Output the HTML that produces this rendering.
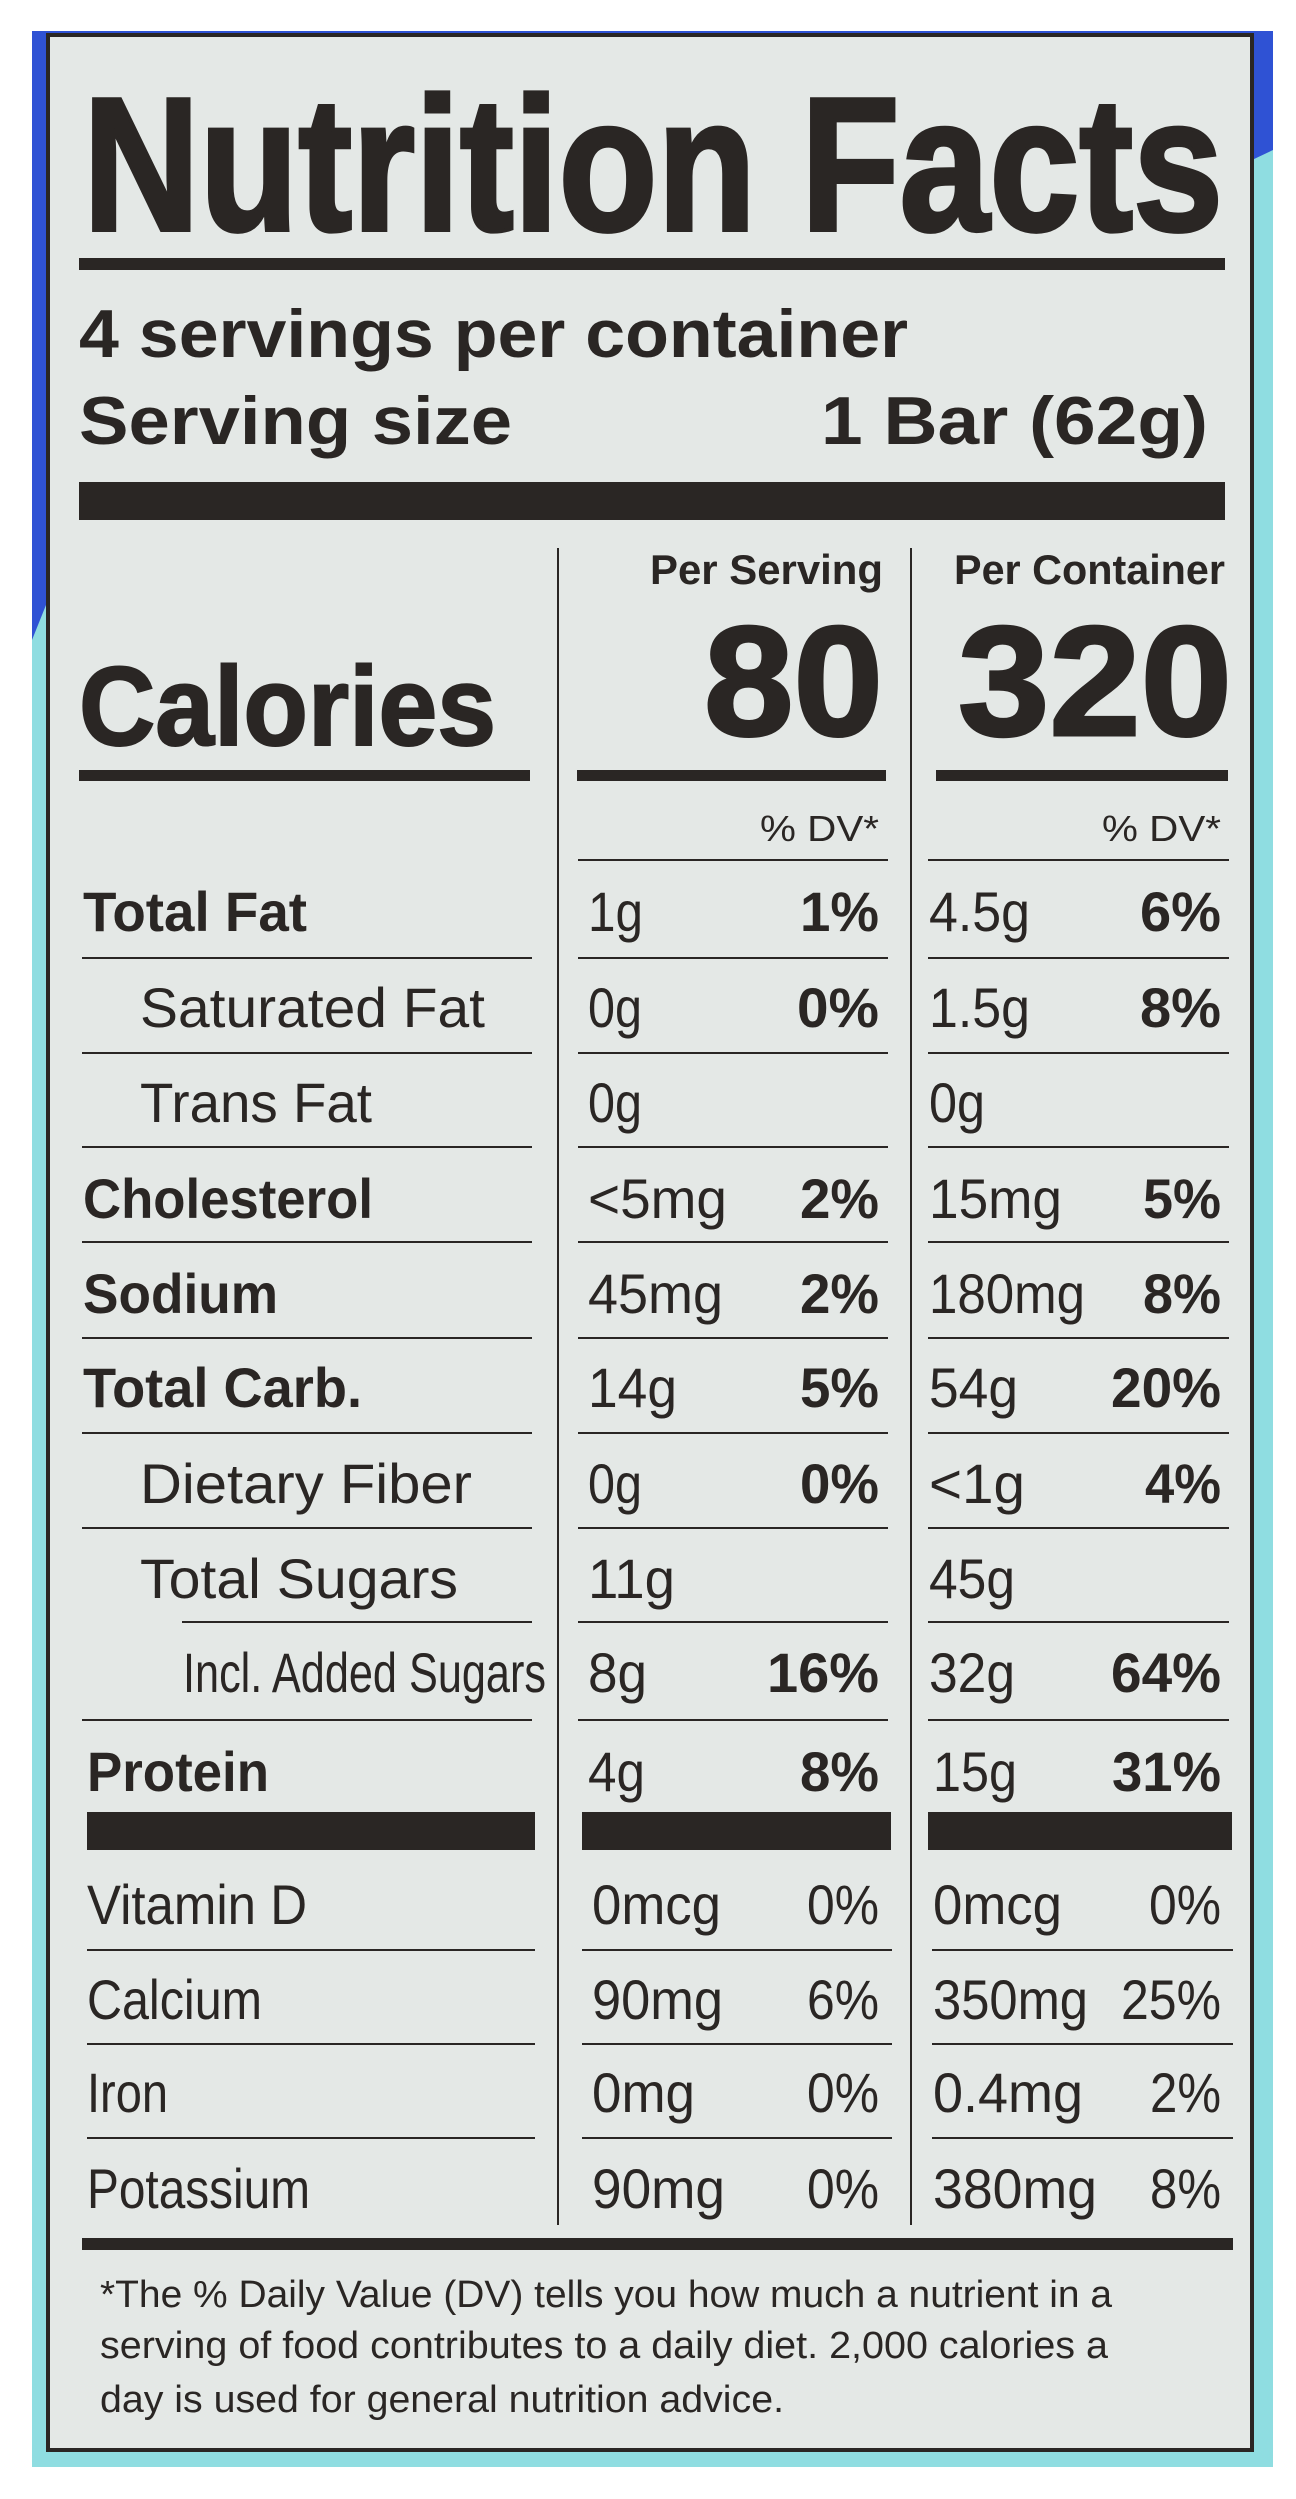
<!DOCTYPE html>
<html><head><meta charset="utf-8"><style>
html,body{margin:0;padding:0;background:#fff;}
svg{display:block}
text{font-family:"Liberation Sans",sans-serif;fill:#2a2624}
.b{font-weight:bold}
</style></head><body>
<svg width="1296" height="2499" viewBox="0 0 1296 2499" xmlns="http://www.w3.org/2000/svg">
<rect x="32" y="31" width="1241" height="2436" fill="#8fdde1"/>
<polygon points="32,31 1273,31 1273,150 1252,160 1252,45 48,45 48,600 32,640" fill="#2f52d4"/>
<rect x="48" y="35" width="1204" height="2415" fill="#e4e8e6" stroke="#2a2624" stroke-width="4"/>
<g fill="#2a2624">
<rect x="79" y="258" width="1146" height="12"/>
<rect x="79" y="482" width="1146" height="38"/>
<rect x="557" y="548" width="2" height="1677"/>
<rect x="910" y="548" width="2" height="1677"/>
<rect x="79" y="770" width="451" height="11"/>
<rect x="577" y="770" width="309" height="11"/>
<rect x="936" y="770" width="292" height="11"/>
<rect x="578" y="859" width="310" height="2"/><rect x="928" y="859" width="301" height="2"/>
<rect x="82" y="957" width="450" height="2"/><rect x="578" y="957" width="310" height="2"/><rect x="928" y="957" width="301" height="2"/>
<rect x="82" y="1052" width="450" height="2"/><rect x="578" y="1052" width="310" height="2"/><rect x="928" y="1052" width="301" height="2"/>
<rect x="82" y="1146" width="450" height="2"/><rect x="578" y="1146" width="310" height="2"/><rect x="928" y="1146" width="301" height="2"/>
<rect x="82" y="1241" width="450" height="2"/><rect x="578" y="1241" width="310" height="2"/><rect x="928" y="1241" width="301" height="2"/>
<rect x="82" y="1337" width="450" height="2"/><rect x="578" y="1337" width="310" height="2"/><rect x="928" y="1337" width="301" height="2"/>
<rect x="82" y="1432" width="450" height="2"/><rect x="578" y="1432" width="310" height="2"/><rect x="928" y="1432" width="301" height="2"/>
<rect x="82" y="1527" width="450" height="2"/><rect x="578" y="1527" width="310" height="2"/><rect x="928" y="1527" width="301" height="2"/>
<rect x="182" y="1621" width="350" height="2"/><rect x="578" y="1621" width="310" height="2"/><rect x="928" y="1621" width="301" height="2"/>
<rect x="82" y="1719" width="450" height="2"/><rect x="578" y="1719" width="310" height="2"/><rect x="928" y="1719" width="301" height="2"/>
<rect x="87" y="1812" width="448" height="38"/><rect x="582" y="1812" width="309" height="38"/><rect x="928" y="1812" width="304" height="38"/>
<rect x="87" y="1949" width="448" height="2"/><rect x="582" y="1949" width="310" height="2"/><rect x="932" y="1949" width="301" height="2"/>
<rect x="87" y="2043" width="448" height="2"/><rect x="582" y="2043" width="310" height="2"/><rect x="932" y="2043" width="301" height="2"/>
<rect x="87" y="2137" width="448" height="2"/><rect x="582" y="2137" width="310" height="2"/><rect x="932" y="2137" width="301" height="2"/>
<rect x="82" y="2238" width="1151" height="12"/>
</g>
<text class="b" x="83" y="230" font-size="190" stroke="#2a2624" stroke-width="4" textLength="1140" lengthAdjust="spacingAndGlyphs">Nutrition Facts</text>
<text class="b" x="79" y="357" font-size="68" textLength="829" lengthAdjust="spacingAndGlyphs">4 servings per container</text>
<text class="b" x="79" y="444" font-size="68" textLength="433" lengthAdjust="spacingAndGlyphs">Serving size</text>
<text class="b" x="821" y="444" font-size="68" textLength="387" lengthAdjust="spacingAndGlyphs">1 Bar (62g)</text>
<text class="b" x="650" y="584" font-size="42" textLength="233" lengthAdjust="spacingAndGlyphs">Per Serving</text>
<text class="b" x="954" y="584" font-size="42" textLength="271" lengthAdjust="spacingAndGlyphs">Per Container</text>
<text class="b" x="704" y="735" font-size="156" stroke="#2a2624" stroke-width="3" textLength="179" lengthAdjust="spacingAndGlyphs">80</text>
<text class="b" x="958" y="735" font-size="156" stroke="#2a2624" stroke-width="3" textLength="274" lengthAdjust="spacingAndGlyphs">320</text>
<text class="b" x="79" y="745" font-size="112" stroke="#2a2624" stroke-width="2" textLength="417" lengthAdjust="spacingAndGlyphs">Calories</text>
<text x="760" y="841" font-size="36" textLength="119" lengthAdjust="spacingAndGlyphs">% DV*</text>
<text x="1102" y="841" font-size="36" textLength="119" lengthAdjust="spacingAndGlyphs">% DV*</text>
<g font-size="56">
<text class="b" x="83" y="931" textLength="224" lengthAdjust="spacingAndGlyphs">Total Fat</text>
<text x="140" y="1027" textLength="345" lengthAdjust="spacingAndGlyphs">Saturated Fat</text>
<text x="140" y="1122" textLength="232" lengthAdjust="spacingAndGlyphs">Trans Fat</text>
<text class="b" x="83" y="1218" textLength="290" lengthAdjust="spacingAndGlyphs">Cholesterol</text>
<text class="b" x="83" y="1313" textLength="195" lengthAdjust="spacingAndGlyphs">Sodium</text>
<text class="b" x="83" y="1407" textLength="279" lengthAdjust="spacingAndGlyphs">Total Carb.</text>
<text x="140" y="1503" textLength="332" lengthAdjust="spacingAndGlyphs">Dietary Fiber</text>
<text x="140" y="1598" textLength="318" lengthAdjust="spacingAndGlyphs">Total Sugars</text>
<text x="183" y="1692" textLength="363" lengthAdjust="spacingAndGlyphs">Incl. Added Sugars</text>
<text class="b" x="87" y="1791" textLength="182" lengthAdjust="spacingAndGlyphs">Protein</text>
<text x="87" y="1924" textLength="220" lengthAdjust="spacingAndGlyphs">Vitamin D</text>
<text x="87" y="2019" textLength="175" lengthAdjust="spacingAndGlyphs">Calcium</text>
<text x="87" y="2112" textLength="81" lengthAdjust="spacingAndGlyphs">Iron</text>
<text x="87" y="2208" textLength="223" lengthAdjust="spacingAndGlyphs">Potassium</text>

<text x="588" y="931" textLength="55" lengthAdjust="spacingAndGlyphs">1g</text>
<text x="588" y="1027" textLength="54" lengthAdjust="spacingAndGlyphs">0g</text>
<text x="588" y="1122" textLength="54" lengthAdjust="spacingAndGlyphs">0g</text>
<text x="588" y="1218" textLength="139" lengthAdjust="spacingAndGlyphs">&lt;5mg</text>
<text x="588" y="1313" textLength="135" lengthAdjust="spacingAndGlyphs">45mg</text>
<text x="588" y="1407" textLength="89" lengthAdjust="spacingAndGlyphs">14g</text>
<text x="588" y="1503" textLength="54" lengthAdjust="spacingAndGlyphs">0g</text>
<text x="588" y="1598" textLength="87" lengthAdjust="spacingAndGlyphs">11g</text>
<text x="588" y="1692" textLength="59" lengthAdjust="spacingAndGlyphs">8g</text>
<text x="588" y="1791" textLength="57" lengthAdjust="spacingAndGlyphs">4g</text>
<text x="592" y="1924" textLength="129" lengthAdjust="spacingAndGlyphs">0mcg</text>
<text x="592" y="2019" textLength="131" lengthAdjust="spacingAndGlyphs">90mg</text>
<text x="592" y="2112" textLength="103" lengthAdjust="spacingAndGlyphs">0mg</text>
<text x="592" y="2208" textLength="133" lengthAdjust="spacingAndGlyphs">90mg</text>

<text class="b" x="800" y="931" textLength="79" lengthAdjust="spacingAndGlyphs">1%</text>
<text class="b" x="797" y="1027" textLength="82" lengthAdjust="spacingAndGlyphs">0%</text>
<text class="b" x="800" y="1218" textLength="79" lengthAdjust="spacingAndGlyphs">2%</text>
<text class="b" x="800" y="1313" textLength="79" lengthAdjust="spacingAndGlyphs">2%</text>
<text class="b" x="800" y="1407" textLength="79" lengthAdjust="spacingAndGlyphs">5%</text>
<text class="b" x="800" y="1503" textLength="79" lengthAdjust="spacingAndGlyphs">0%</text>
<text class="b" x="767" y="1692" textLength="112" lengthAdjust="spacingAndGlyphs">16%</text>
<text class="b" x="800" y="1791" textLength="79" lengthAdjust="spacingAndGlyphs">8%</text>
<text x="807" y="1924" textLength="72" lengthAdjust="spacingAndGlyphs">0%</text>
<text x="807" y="2019" textLength="72" lengthAdjust="spacingAndGlyphs">6%</text>
<text x="807" y="2112" textLength="72" lengthAdjust="spacingAndGlyphs">0%</text>
<text x="807" y="2208" textLength="72" lengthAdjust="spacingAndGlyphs">0%</text>

<text x="929" y="931" textLength="101" lengthAdjust="spacingAndGlyphs">4.5g</text>
<text x="929" y="1027" textLength="101" lengthAdjust="spacingAndGlyphs">1.5g</text>
<text x="929" y="1122" textLength="56" lengthAdjust="spacingAndGlyphs">0g</text>
<text x="929" y="1218" textLength="133" lengthAdjust="spacingAndGlyphs">15mg</text>
<text x="929" y="1313" textLength="156" lengthAdjust="spacingAndGlyphs">180mg</text>
<text x="929" y="1407" textLength="89" lengthAdjust="spacingAndGlyphs">54g</text>
<text x="929" y="1503" textLength="96" lengthAdjust="spacingAndGlyphs">&lt;1g</text>
<text x="929" y="1598" textLength="86" lengthAdjust="spacingAndGlyphs">45g</text>
<text x="929" y="1692" textLength="86" lengthAdjust="spacingAndGlyphs">32g</text>
<text x="933" y="1791" textLength="84" lengthAdjust="spacingAndGlyphs">15g</text>
<text x="933" y="1924" textLength="129" lengthAdjust="spacingAndGlyphs">0mcg</text>
<text x="933" y="2019" textLength="155" lengthAdjust="spacingAndGlyphs">350mg</text>
<text x="933" y="2112" textLength="150" lengthAdjust="spacingAndGlyphs">0.4mg</text>
<text x="933" y="2208" textLength="164" lengthAdjust="spacingAndGlyphs">380mg</text>

<text class="b" x="1140" y="931" textLength="81" lengthAdjust="spacingAndGlyphs">6%</text>
<text class="b" x="1140" y="1027" textLength="81" lengthAdjust="spacingAndGlyphs">8%</text>
<text class="b" x="1143" y="1218" textLength="78" lengthAdjust="spacingAndGlyphs">5%</text>
<text class="b" x="1143" y="1313" textLength="78" lengthAdjust="spacingAndGlyphs">8%</text>
<text class="b" x="1111" y="1407" textLength="110" lengthAdjust="spacingAndGlyphs">20%</text>
<text class="b" x="1145" y="1503" textLength="76" lengthAdjust="spacingAndGlyphs">4%</text>
<text class="b" x="1111" y="1692" textLength="110" lengthAdjust="spacingAndGlyphs">64%</text>
<text class="b" x="1112" y="1791" textLength="109" lengthAdjust="spacingAndGlyphs">31%</text>
<text x="1149" y="1924" textLength="72" lengthAdjust="spacingAndGlyphs">0%</text>
<text x="1121" y="2019" textLength="100" lengthAdjust="spacingAndGlyphs">25%</text>
<text x="1150" y="2112" textLength="71" lengthAdjust="spacingAndGlyphs">2%</text>
<text x="1150" y="2208" textLength="71" lengthAdjust="spacingAndGlyphs">8%</text>
</g>
<g font-size="38">
<text x="100" y="2307" textLength="1012" lengthAdjust="spacingAndGlyphs">*The % Daily Value (DV) tells you how much a nutrient in a</text>
<text x="100" y="2358" textLength="1008" lengthAdjust="spacingAndGlyphs">serving of food contributes to a daily diet. 2,000 calories a</text>
<text x="100" y="2412" textLength="684" lengthAdjust="spacingAndGlyphs">day is used for general nutrition advice.</text>
</g>
</svg>
</body></html>
